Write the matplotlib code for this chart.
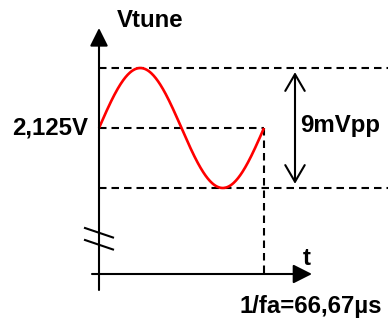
import numpy as np
import matplotlib
matplotlib.use("Agg")
import matplotlib.pyplot as plt

# signal values (time in us, voltage in mV around the 2.125 V offset)
period_us = 66.67
amplitude_mv = 4.5            # 9 mVpp
offset_label = "2,125V"
pp_label = "9mVpp"
y_label = "Vtune"
x_label = "t"
period_label = "1/fa=66,67\u00b5s"

# scale of the drawing: pixels per unit
px_per_us = 165 / period_us
px_per_mv = 60 / amplitude_mv


def px(x, y):
    # pixel position (from the axis origin at left/offset line) -> data units
    return x / px_per_us, -y / px_per_mv


plt.rcParams["font.family"] = ["Liberation Sans", "DejaVu Sans"]
plt.rcParams["font.weight"] = "bold"

fig = plt.figure(figsize=(3.88, 3.2), dpi=100)
ax = fig.add_axes([0, 0, 1, 1])
ax.set_xlim(-99 / px_per_us, (388 - 99) / px_per_us)
ax.set_ylim(-(320 - 128) / px_per_mv, 128 / px_per_mv)
ax.axis("off")

dash = (0, (3.6, 2.4))
lw = 1.5

# sine wave, one period
t = np.linspace(0, period_us, 300)
v = amplitude_mv * np.sin(2 * np.pi * t / period_us)
ax.plot(t, v, color="red", lw=1.9, solid_capstyle="butt", zorder=3)

# dashed guides
x_right = ax.get_xlim()[1]
ax.plot([0, x_right], [amplitude_mv, amplitude_mv], color="black", lw=lw, ls=dash)
ax.plot([0, x_right], [-amplitude_mv, -amplitude_mv], color="black", lw=lw, ls=dash)
ax.plot([0, period_us], [0, 0], color="black", lw=lw, ls=dash)

# axes with arrows
y_axis_y = px(0, 274 - 128)[1]
ax.annotate("", xy=(0, px(0, 28 - 128)[1]), xytext=(0, px(0, 290 - 128)[1]),
            arrowprops=dict(arrowstyle="-|>,head_length=1.1,head_width=0.55",
                            lw=lw, color="black", shrinkA=0, shrinkB=0,
                            mutation_scale=10))
ax.annotate("", xy=(px(312 - 99, 0)[0], y_axis_y), xytext=(px(92 - 99, 0)[0], y_axis_y),
            arrowprops=dict(arrowstyle="-|>,head_length=1.15,head_width=0.58",
                            lw=lw, color="black", shrinkA=0, shrinkB=0,
                            mutation_scale=10))

# period marker
ax.plot([period_us, period_us], [0, y_axis_y], color="black", lw=lw, ls=dash)

# peak-to-peak arrow
pp_x = px(295 - 99, 0)[0]
ax.annotate("", xy=(pp_x, amplitude_mv), xytext=(pp_x, -amplitude_mv),
            arrowprops=dict(arrowstyle="<->,head_length=1.2,head_width=0.7",
                            lw=lw, color="black", shrinkA=3, shrinkB=3,
                            mutation_scale=10))

# axis break marks
for y0 in (228, 240):
    x1, y1 = px(85 - 99, y0 - 128)
    x2, y2 = px(113 - 99, y0 + 9.5 - 128)
    ax.plot([x1, x2], [y1, y2], color="black", lw=lw)

fs = 17.3
ax.text(*px(117 - 99, 20 - 128), y_label, fontsize=fs, ha="left", va="center")
ax.text(*px(88 - 99, 0), offset_label, fontsize=fs, ha="right", va="center")
ax.text(*px(300 - 99, -3), pp_label, fontsize=fs, ha="left", va="center")
ax.text(*px(307 - 99, 258 - 128), x_label, fontsize=fs, ha="center", va="center")
ax.text(*px(382 - 99, 307 - 128), period_label, fontsize=fs, ha="right", va="center")

fig.savefig("out.png", dpi=100)
